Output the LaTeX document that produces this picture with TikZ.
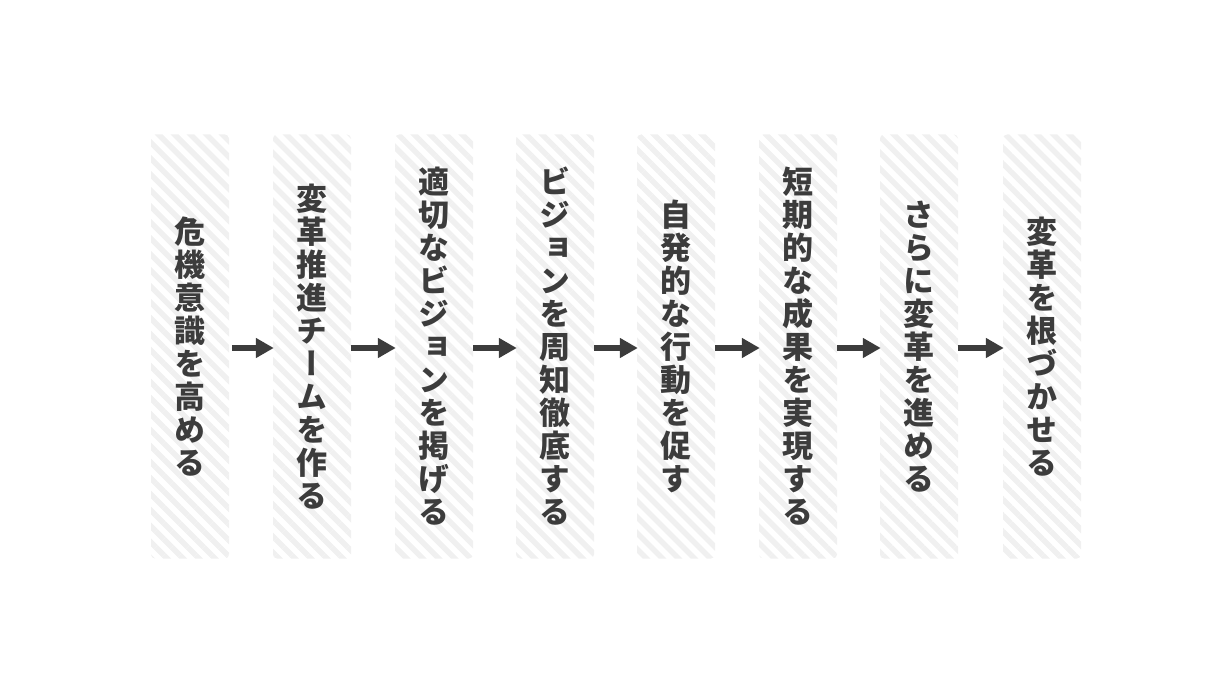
\documentclass[tikz,border=0pt]{standalone}
\usepackage{fontspec}
\usepackage{xcolor}
\usepackage{tikz}
\usetikzlibrary{arrows.meta,patterns.meta}

\newfontfamily\tatefont[RawFeature=+vert]{Noto Sans CJK JP Black}
\definecolor{ink}{HTML}{3C3C3C}
\definecolor{stripe}{HTML}{F0F0F0}

% one character per line
\def\tatenext#1{\ifx\relax#1\else\hbox to 32pt{\hss#1\hss}\expandafter\tatenext\fi}
\newcommand\tate[1]{\vbox{\baselineskip=33pt\lineskiplimit=-20pt\tatenext#1\relax}}

\tikzset{
  stepcol/.style={rounded corners=4pt, minimum width=78pt, minimum height=424pt,
    inner sep=0pt, pattern={Lines[angle=-45,distance=11.3pt,line width=5.5pt]},
    pattern color=stripe, text=ink, font=\tatefont\fontsize{31pt}{33pt}\selectfont},
  flow/.style={ink, line width=6pt, -{Triangle[length=18pt,width=19pt]}, shorten >=-1pt}
}

\begin{document}
\begin{tikzpicture}[x=1pt,y=-1pt]
	\useasboundingbox (0,0) rectangle (1229,695);
	\node[stepcol] at (190,346.5) (s1){\tate{危機意識を高める}};
	\node[stepcol] at (312,346.5) (s2){\tate{変革推進チームを作る}};
	\node[stepcol] at (434,346.5) (s3){\tate{適切なビジョンを掲げる}};
	\node[stepcol] at (555,346.5) (s4){\tate{ビジョンを周知徹底する}};
	\node[stepcol] at (676,346.5) (s5){\tate{自発的な行動を促す}};
	\node[stepcol] at (798,346.5) (s6){\tate{短期的な成果を実現する}};
	\node[stepcol] at (919,346.5) (s7){\tate{さらに変革を進める}};
	\node[stepcol] at (1042,346.5) (s8){\tate{変革を根づかせる}};
	\foreach \a/\b in {s1/s2,s2/s3,s3/s4,s4/s5,s5/s6,s6/s7,s7/s8}
		\draw[flow] ([yshift=-1.5pt]\a.east) -- ([yshift=-1.5pt]\b.west);
\end{tikzpicture}
\end{document}
